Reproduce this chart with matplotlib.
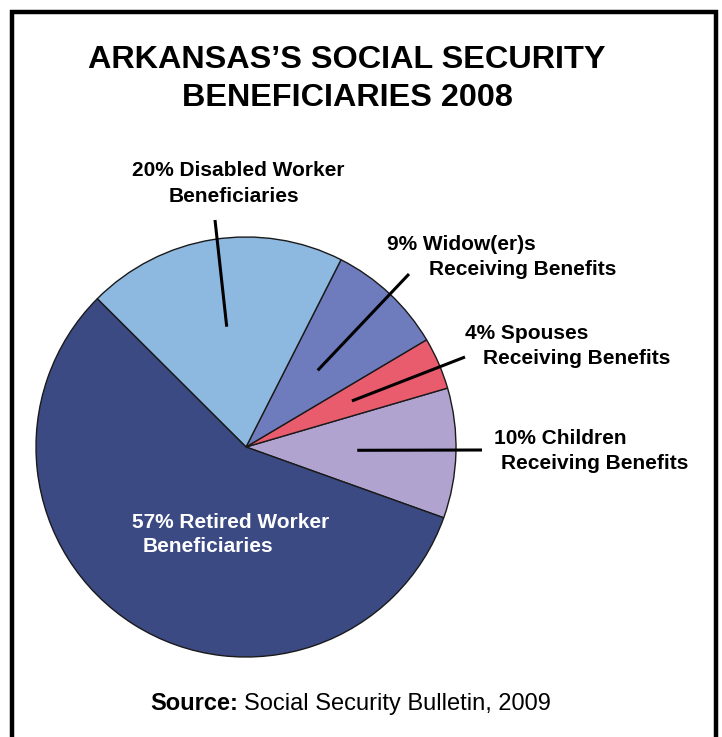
"""
Arkansas's Social Security beneficiaries, 2008 -- pie chart with leader labels.
"""
import matplotlib.pyplot as plt
import numpy as np

plt.rcParams["font.family"] = ["Liberation Sans", "DejaVu Sans"]

W, H = 722, 737

# share of beneficiaries, counter-clockwise from the children slice
categories = [
    "Children\nReceiving Benefits",
    "Spouses\nReceiving Benefits",
    "Widow(er)s\nReceiving Benefits",
    "Disabled Worker\nBeneficiaries",
    "Retired Worker\nBeneficiaries",
]
shares = [10, 4, 9, 20, 57]
colors = ["#B0A3CF", "#E85C6E", "#6E7BBD", "#8DB8E0", "#3C4A84"]

# label placement in pixel coords (x, y from top): text anchor, second-line indent,
# leader start (text side)
label_pos = [
    (494, 438, 7, (482, 450)),
    (465, 333, 18, (465, 357)),
    (387, 244, 42, (409, 274)),
    (238, 170, None, (215, 220)),
    (132, 522, 11, None),
]
leader_r = [0.53, 0.55, 0.50, 0.58, None]

cx, cy, R = 246, H - 447, 210
start = -19.7

fig = plt.figure(figsize=(W / 100, H / 100), dpi=100)
ax = fig.add_axes([0, 0, 1, 1])

ax.pie(shares, colors=colors, startangle=start, counterclock=True,
       center=(cx, cy), radius=R, frame=True,
       wedgeprops=dict(edgecolor="#1a1a1a", linewidth=1.0))
ax.set_xlim(0, W)
ax.set_ylim(0, H)
ax.set_aspect("equal")
ax.axis("off")

# frame
ax.plot([12, 12, 716, 716], [-5, H - 12, H - 12, -5], color="black", lw=3.2,
        solid_joinstyle="miter", clip_on=False)

# title
ax.text(347, H - 60, "ARKANSAS\u2019S SOCIAL SECURITY", ha="center", va="center",
        fontsize=23.3, fontweight="bold")
ax.text(347, H - 98, "BENEFICIARIES 2008", ha="center", va="center",
        fontsize=23.3, fontweight="bold")

# slice labels
fs = 15
angles = start + np.cumsum([0] + shares[:-1]) * 3.6 + np.array(shares) * 1.8
for name, pct, (lx, ly, indent, lead), fr, ang in zip(
        categories, shares, label_pos, leader_r, angles):
    first, second = name.split("\n")
    col = "white" if lead is None else "black"
    if indent is None:
        ax.text(lx, H - ly, f"{pct}% {first}", ha="center", va="center",
                fontsize=fs, fontweight="bold", color=col)
        ax.text(lx - 4, H - ly - 26, second, ha="center", va="center",
                fontsize=fs, fontweight="bold", color=col)
    else:
        ax.text(lx, H - ly, f"{pct}% {first}", ha="left", va="center",
                fontsize=fs, fontweight="bold", color=col)
        ax.text(lx + indent, H - ly - 25, second, ha="left", va="center",
                fontsize=fs, fontweight="bold", color=col)
    if lead is not None:
        ex = cx + fr * R * np.cos(np.radians(ang))
        ey = cy + fr * R * np.sin(np.radians(ang))
        ax.plot([lead[0], ex], [H - lead[1], ey], color="black", lw=2.2,
                solid_capstyle="butt")

# source line: bold lead-in followed by regular text
renderer = fig.canvas.get_renderer()
src_bold = ax.text(150, H - 704, "Source:", ha="left", va="center",
                   fontsize=17, fontweight="bold")
bb = src_bold.get_window_extent(renderer)
ax.text(bb.x1 + 6, H - 704, "Social Security Bulletin, 2009", ha="left",
        va="center", fontsize=17)

fig.savefig("out.png", dpi=100)
